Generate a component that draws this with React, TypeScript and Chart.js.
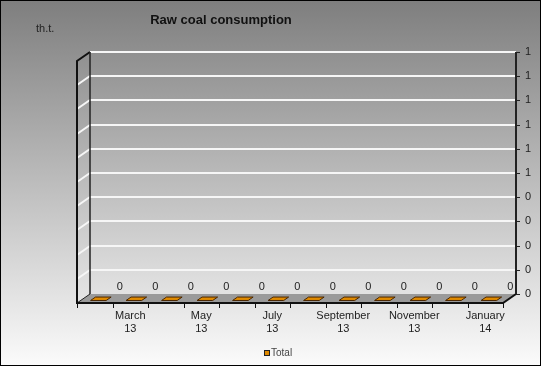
import React, { useEffect, useRef } from 'react';
import { Chart, registerables } from 'chart.js';

Chart.register(...registerables);

// ---- data ----
const categories: string[][] = [
  ['February', '13'], ['March', '13'], ['April', '13'], ['May', '13'],
  ['June', '13'], ['July', '13'], ['August', '13'], ['September', '13'],
  ['October', '13'], ['November', '13'], ['December', '13'], ['January', '14'],
];
const totalValues: number[] = [0, 0, 0, 0, 0, 0, 0, 0, 0, 0, 0, 0];
const seriesName = 'Total';
const chartTitle = 'Raw coal consumption';
const unitLabel = 'th.t.';
const yMin = 0;
const yMax = 1;
const yStep = 0.1;

// ---- style ----
const FONT = "'Liberation Sans', Arial, sans-serif";
const BAR_COLOR = '#e08a00';
const BAR_EDGE = '#4a2600';
const DX = 13;
const DY = 9;
const W = 543;
const H = 368;

const threeD = {
  id: 'threeD',
  beforeDraw(chart: any) {
    const ctx = chart.ctx;
    ctx.save();
    ctx.fillStyle = '#ffffff';
    ctx.fillRect(0, 0, W, H);
    const g = ctx.createLinearGradient(0, 0, 0, 366);
    g.addColorStop(0, '#7e7e7e');
    g.addColorStop(1, '#fbfbfb');
    ctx.fillStyle = g;
    ctx.fillRect(0, 0, 541, 366);
    ctx.strokeStyle = '#000';
    ctx.lineWidth = 1;
    ctx.strokeRect(0.5, 0.5, 540, 365);

    // title & unit
    ctx.fillStyle = '#111';
    ctx.font = `bold 13px ${FONT}`;
    ctx.textAlign = 'center';
    ctx.textBaseline = 'alphabetic';
    ctx.fillText(chartTitle, 221, 24);
    ctx.font = `11px ${FONT}`;
    ctx.textAlign = 'left';
    ctx.fillStyle = '#222';
    ctx.fillText(unitLabel, 36, 32);
    ctx.restore();
  },
  beforeDatasetsDraw(chart: any) {
    const ctx = chart.ctx;
    const xs = chart.scales.x;
    const ys = chart.scales.y;
    const area = chart.chartArea;
    const L = area.left;
    const R = area.right;
    const yTop = ys.getPixelForValue(yMax);
    const y0 = ys.getPixelForValue(0);
    ctx.save();

    // gridlines on back wall + left wall
    ctx.strokeStyle = '#f6f6f6';
    ctx.lineWidth = 2;
    ys.ticks.forEach((t: any) => {
      const y = Math.round(ys.getPixelForValue(t.value));
      if (t.value === 0 || t.value === yMax) return;
      ctx.beginPath();
      ctx.moveTo(L, y + DY);
      ctx.lineTo(L + DX, y);
      ctx.lineTo(R + DX, y);
      ctx.stroke();
    });
    // top line
    ctx.beginPath();
    ctx.moveTo(L + DX, yTop);
    ctx.lineTo(R + DX, yTop);
    ctx.stroke();

    // left wall edges
    ctx.strokeStyle = '#111';
    ctx.lineWidth = 2;
    ctx.beginPath();
    ctx.moveTo(L, y0 + DY);
    ctx.lineTo(L, yTop + DY);
    ctx.lineTo(L + DX, yTop);
    ctx.stroke();
    ctx.lineWidth = 1.5;
    ctx.strokeStyle = '#222';
    ctx.beginPath();
    ctx.moveTo(L + DX, yTop);
    ctx.lineTo(L + DX, y0);
    ctx.stroke();

    // floor
    ctx.fillStyle = '#9a9a9a';
    ctx.beginPath();
    ctx.moveTo(L, y0 + DY);
    ctx.lineTo(R, y0 + DY);
    ctx.lineTo(R + DX, y0);
    ctx.lineTo(L + DX, y0);
    ctx.closePath();
    ctx.fill();
    ctx.strokeStyle = '#222';
    ctx.lineWidth = 1;
    ctx.beginPath();
    ctx.moveTo(L + DX, y0);
    ctx.lineTo(L, y0 + DY);
    ctx.stroke();
    ctx.strokeStyle = '#111';
    ctx.lineWidth = 2;
    ctx.beginPath();
    ctx.moveTo(L - 1, y0 + DY);
    ctx.lineTo(R, y0 + DY);
    ctx.lineTo(R + DX, y0);
    ctx.stroke();

    // category ticks on the front edge
    ctx.lineWidth = 1;
    const n = categories.length;
    const step = (R - L) / n;
    for (let i = 0; i <= n; i++) {
      const x = Math.round(L + i * step) + 0.5;
      ctx.beginPath();
      ctx.moveTo(x, y0 + DY);
      ctx.lineTo(x, y0 + DY + 5);
      ctx.stroke();
    }

    // right axis
    ctx.strokeStyle = '#222';
    ctx.lineWidth = 2;
    ctx.beginPath();
    ctx.moveTo(R + DX, yTop);
    ctx.lineTo(R + DX, y0);
    ctx.stroke();
    ctx.lineWidth = 1;
    ys.ticks.forEach((t: any) => {
      const y = Math.round(ys.getPixelForValue(t.value)) + 0.5;
      ctx.beginPath();
      ctx.moveTo(R + DX, y);
      ctx.lineTo(R + DX + 4, y);
      ctx.stroke();
    });

    // 3D bars
    const meta = chart.getDatasetMeta(0);
    const d1 = 0.28;
    const d2 = 0.66;
    meta.data.forEach((el: any, i: number) => {
      const v = totalValues[i];
      const yv = ys.getPixelForValue(v);
      const half = el.width / 2;
      const fx = (d: number) => el.x + DX * d;
      const fy = (yy: number, d: number) => yy + DY * (1 - d);
      ctx.fillStyle = BAR_COLOR;
      ctx.strokeStyle = BAR_EDGE;
      ctx.lineWidth = 1;
      // front face
      if (yv < y0) {
        ctx.beginPath();
        ctx.rect(fx(d1) - half, fy(yv, d1), half * 2, fy(y0, d1) - fy(yv, d1));
        ctx.fill();
        ctx.stroke();
        ctx.beginPath();
        ctx.moveTo(fx(d1) + half, fy(yv, d1));
        ctx.lineTo(fx(d2) + half, fy(yv, d2));
        ctx.lineTo(fx(d2) + half, fy(y0, d2));
        ctx.lineTo(fx(d1) + half, fy(y0, d1));
        ctx.closePath();
        ctx.fill();
        ctx.stroke();
      }
      // top face
      ctx.beginPath();
      ctx.moveTo(fx(d1) - half, fy(yv, d1));
      ctx.lineTo(fx(d1) + half, fy(yv, d1));
      ctx.lineTo(fx(d2) + half, fy(yv, d2));
      ctx.lineTo(fx(d2) - half, fy(yv, d2));
      ctx.closePath();
      ctx.fill();
      ctx.stroke();
    });
    ctx.restore();
  },
  afterDraw(chart: any) {
    const ctx = chart.ctx;
    const ys = chart.scales.y;
    const meta = chart.getDatasetMeta(0);
    ctx.save();
    ctx.font = `11px ${FONT}`;
    ctx.fillStyle = '#222';
    ctx.textAlign = 'center';
    ctx.textBaseline = 'middle';
    meta.data.forEach((el: any, i: number) => {
      const v = totalValues[i];
      ctx.fillText(String(Math.round(v)), el.x + 25, ys.getPixelForValue(v) - 7);
    });
    // legend
    const ds = chart.data.datasets[0];
    ctx.fillStyle = BAR_COLOR;
    ctx.fillRect(264.5, 350.5, 5, 5);
    ctx.strokeStyle = '#222';
    ctx.lineWidth = 1;
    ctx.strokeRect(264.5, 350.5, 5, 5);
    ctx.font = `10px ${FONT}`;
    ctx.fillStyle = '#444';
    ctx.textAlign = 'left';
    ctx.fillText(ds.label, 271, 353);
    ctx.restore();
  },
};

export default function App() {
  const ref = useRef<HTMLCanvasElement | null>(null);
  useEffect(() => {
    document.body.style.margin = '0';
    const canvas = ref.current!;
    const chart = new Chart(canvas, {
      type: 'bar',
      data: {
        labels: categories,
        datasets: [
          {
            label: seriesName,
            data: totalValues,
            backgroundColor: BAR_COLOR,
            borderWidth: 0,
            categoryPercentage: 1,
            barPercentage: 0.44,
          },
        ],
      },
      options: {
        animation: false,
        responsive: false,
        devicePixelRatio: 1,
        layout: { padding: { left: 77, top: 52, right: 0, bottom: 0 } },
        plugins: { legend: { display: false }, tooltip: { enabled: false }, title: { display: false } },
        scales: {
          x: {
            type: 'category',
            grid: { display: false, drawTicks: false },
            border: { display: false },
            ticks: {
              autoSkip: false,
              maxRotation: 0,
              minRotation: 0,
              padding: 15,
              color: '#222',
              font: { family: FONT, size: 11, lineHeight: 1.2 },
              callback: (_v: any, i: number) => (i % 2 === 1 ? categories[i] : ''),
            },
            afterFit: (s: any) => { s.height = 74; },
          },
          y: {
            position: 'right',
            min: yMin,
            max: yMax,
            grid: { display: false, drawTicks: false },
            border: { display: false },
            ticks: {
              stepSize: yStep,
              padding: 22,
              color: '#222',
              font: { family: FONT, size: 11 },
              callback: (v: any) => String(Math.round(Number(v))),
            },
            afterFit: (s: any) => { s.width = 40; },
          },
        },
      },
      plugins: [threeD],
    });
    return () => chart.destroy();
  }, []);
  return (
    <div style={{ width: W, height: H }}>
      <canvas ref={ref} width={W} height={H} style={{ display: 'block' }} />
    </div>
  );
}
